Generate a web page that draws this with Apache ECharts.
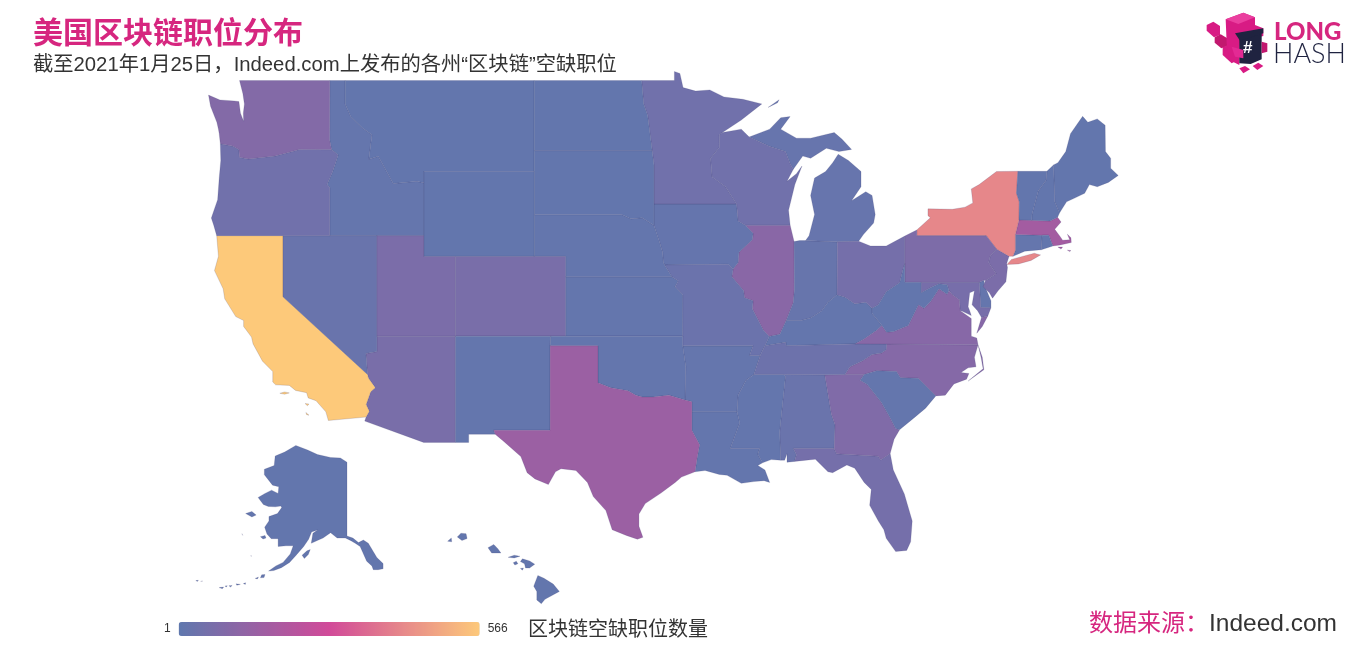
<!DOCTYPE html>
<html lang="zh">
<head>
<meta charset="UTF-8">
<title>美国区块链职位分布</title>
<style>
    *{margin:0;padding:0}
    html,body{background:#fff}
    #main{width:1366px;height:650px}
</style>
<script src="https://cdn.jsdelivr.net/npm/echarts@6/dist/echarts.min.js"></script>
</head>
<body>
<div id="main"></div>
<script>
// job counts
const stateNames = ['AL','AK','AZ','AR','CA','CO','CT','DE','FL','GA','HI','ID','IL','IN','IA','KS','KY','LA','ME','MD','MA','MI','MN','MS','MO','MT','NE','NV','NH','NJ','NM','NY','NC','ND','OH','OK','OR','PA','RI','SC','SD','TN','TX','UT','VT','VA','WA','WV','WI','WY'];
const jobCounts = [28,12,65,15,566,65,15,15,55,82,12,15,105,22,17,14,14,14,12,60,170,20,45,13,30,12,14,25,12,70,14,420,95,12,55,14,45,75,12,14,12,35,150,70,12,100,90,12,45,12];
const scaleMin = 1, scaleMax = 566;

// rough state outlines, [lon,lat]; each state is a list of polygons
const outlines = {
WA:[[[-122.76,49],[-117.03,49],[-117.04,46.43],[-116.92,45.99],[-118.98,46],[-119.3,45.93],[-120.5,45.7],[-121.2,45.65],[-122.2,45.57],[-122.76,45.65],[-122.8,46],[-123.2,46.15],[-123.98,46.25],[-124.05,46.7],[-124.1,46.9],[-124.2,47.2],[-124.6,47.9],[-124.73,48.38],[-124,48.17],[-123.1,48.13],[-122.8,48.1],[-122.7,47.6],[-122.5,47.25],[-122.52,47.6],[-122.45,48],[-122.55,48.45]]],
OR:[[[-123.98,46.25],[-123.2,46.15],[-122.8,46],[-122.76,45.65],[-122.2,45.57],[-121.2,45.65],[-120.5,45.7],[-119.3,45.93],[-118.98,46],[-116.92,45.99],[-116.5,45.75],[-116.85,45],[-117.2,44.4],[-117.03,44.25],[-117.03,42],[-120,42],[-124.21,42],[-124.4,42.5],[-124.55,42.84],[-124.15,43.7],[-124.05,44.7],[-123.95,45.5]]],
CA:[[[-124.21,42],[-120,42],[-120,39],[-114.63,35],[-114.57,34.8],[-114.14,34.3],[-114.43,34.08],[-114.72,33.4],[-114.52,33.03],[-114.72,32.72],[-117.12,32.53],[-117.28,33],[-117.9,33.6],[-118.4,33.75],[-118.5,34.03],[-119.2,34.15],[-119.6,34.42],[-120.47,34.45],[-120.65,34.6],[-120.65,35.15],[-121.3,35.7],[-121.9,36.6],[-122,36.95],[-122.5,37.5],[-122.5,37.8],[-123,38],[-123.7,38.9],[-123.8,39.4],[-124.35,40.3],[-124.1,41]],
    [[-120.2,34],[-119.9,34.07],[-119.6,34.02],[-119.9,33.95]],[[-118.6,33.45],[-118.35,33.42],[-118.45,33.33]],[[-118.55,32.97],[-118.35,32.82],[-118.5,32.85]]],
NV:[[[-120,42],[-117.03,42],[-114.04,42],[-114.04,37],[-114.04,36.2],[-114.74,36.1],[-114.63,35],[-120,39]]],
UT:[[[-114.04,42],[-111.05,42],[-111.05,41],[-109.05,41],[-109.05,37],[-114.04,37]]],
AZ:[[[-114.04,37],[-109.05,37],[-109.05,31.33],[-111.07,31.33],[-114.81,32.5],[-114.72,32.72],[-114.52,33.03],[-114.72,33.4],[-114.43,34.08],[-114.14,34.3],[-114.57,34.8],[-114.63,35],[-114.74,36.1],[-114.04,36.2]]],
ID:[[[-117.03,49],[-116.05,49],[-116.05,48],[-115.7,47.45],[-114.95,46.95],[-114.35,46.65],[-114.55,45.56],[-113.95,45.69],[-113.45,45.05],[-113,44.45],[-111.5,44.55],[-111.05,44.48],[-111.05,42],[-114.04,42],[-117.03,42],[-117.03,44.25],[-117.2,44.4],[-116.85,45],[-116.5,45.75],[-116.92,45.99],[-117.04,46.43]]],
MT:[[[-116.05,49],[-104.05,49],[-104.05,45.94],[-104.05,45],[-111.05,45],[-111.05,44.48],[-111.5,44.55],[-113,44.45],[-113.45,45.05],[-113.95,45.69],[-114.55,45.56],[-114.35,46.65],[-114.95,46.95],[-115.7,47.45],[-116.05,48]]],
WY:[[[-111.05,45],[-104.05,45],[-104.05,43],[-104.05,41],[-109.05,41],[-111.05,41],[-111.05,42],[-111.05,44.48]]],
CO:[[[-109.05,41],[-104.05,41],[-102.05,41],[-102.05,40],[-102.05,37],[-103,37],[-109.05,37]]],
NM:[[[-109.05,37],[-103,37],[-103.04,36.5],[-103.04,32],[-106.62,32],[-106.53,31.78],[-108.21,31.78],[-108.21,31.33],[-109.05,31.33]]],
ND:[[[-104.05,49],[-97.23,49],[-97.1,48],[-96.85,47.5],[-96.56,45.94],[-104.05,45.94]]],
SD:[[[-104.05,45.94],[-96.56,45.94],[-96.45,45.3],[-96.45,43.5],[-96.45,42.49],[-97.2,42.85],[-97.9,42.8],[-98.5,43],[-104.05,43],[-104.05,45]]],
NE:[[[-104.05,43],[-98.5,43],[-97.9,42.8],[-97.2,42.85],[-96.45,42.49],[-96.1,41.7],[-95.9,41.2],[-95.85,40.7],[-95.77,40.58],[-95.31,40],[-102.05,40],[-102.05,41],[-104.05,41]]],
KS:[[[-102.05,40],[-95.31,40],[-94.9,39.8],[-95.1,39.5],[-94.61,39.1],[-94.62,37],[-102.05,37]]],
OK:[[[-103,37],[-102.05,37],[-94.62,37],[-94.62,36.5],[-94.43,35.4],[-94.48,33.64],[-95.5,33.9],[-96.5,33.8],[-97.2,33.8],[-97.6,33.9],[-98.1,34.13],[-99.2,34.3],[-100,34.56],[-100,36.5],[-103.04,36.5]]],
TX:[[[-103.04,36.5],[-100,36.5],[-100,34.56],[-99.2,34.3],[-98.1,34.13],[-97.6,33.9],[-97.2,33.8],[-96.5,33.8],[-95.5,33.9],[-94.48,33.64],[-94.04,33.55],[-94.04,33],[-94.04,32],[-93.55,31.2],[-93.7,30.5],[-93.84,29.7],[-94.7,29.4],[-95.1,29.1],[-96,28.5],[-97,27.9],[-97.4,27.3],[-97.4,26.6],[-97.15,25.96],[-97.5,25.85],[-98.2,26.07],[-99.1,26.4],[-99.5,27.5],[-100.3,28.3],[-100.67,29.1],[-101.4,29.77],[-102.35,29.87],[-102.7,29.7],[-103.15,28.98],[-104,29.3],[-104.5,29.65],[-104.9,30.55],[-106,31.4],[-106.53,31.78],[-106.62,32],[-103.04,32]]],
MN:[[[-97.23,49],[-95.15,49],[-95.15,49.38],[-94.8,49.3],[-94.6,48.7],[-93.8,48.55],[-92.9,48.6],[-92,48.3],[-90.8,48.2],[-89.6,48],[-90.9,47.3],[-92.1,46.75],[-92.3,46.65],[-92.29,46.1],[-92.85,45.6],[-92.75,44.75],[-91.9,44.3],[-91.2,43.5],[-96.45,43.5],[-96.45,45.3],[-96.56,45.94],[-96.85,47.5],[-97.1,48]]],
IA:[[[-96.45,43.5],[-91.2,43.5],[-91.1,42.7],[-90.64,42.5],[-90.15,42.1],[-90.2,41.8],[-91.05,41.2],[-91.1,40.7],[-91.42,40.38],[-91.73,40.61],[-95.77,40.58],[-95.85,40.7],[-95.9,41.2],[-96.1,41.7],[-96.45,42.49]]],
MO:[[[-95.77,40.58],[-91.73,40.61],[-91.42,40.38],[-91.5,40],[-90.75,39.3],[-90.7,38.95],[-90.15,38.8],[-90.2,38.4],[-89.5,37.3],[-89.13,36.98],[-89.4,36.5],[-89.7,36],[-90.37,36],[-90.15,36.5],[-94.62,36.5],[-94.62,37],[-94.61,39.1],[-95.1,39.5],[-94.9,39.8],[-95.31,40]]],
AR:[[[-94.62,36.5],[-90.15,36.5],[-90.37,36],[-89.7,36],[-90.1,35],[-90.6,34.7],[-91.1,33.9],[-91.17,33],[-94.04,33],[-94.04,33.55],[-94.48,33.64],[-94.43,35.4]]],
LA:[[[-94.04,33],[-91.17,33],[-91,32.4],[-91.6,31],[-89.73,31],[-89.85,30.67],[-89.55,30.2],[-89.85,30.05],[-89.4,29.8],[-89.1,29.1],[-89.45,29.2],[-90.1,29.15],[-90.9,29.05],[-91.8,29.5],[-92.3,29.55],[-93.2,29.77],[-93.84,29.7],[-93.7,30.5],[-93.55,31.2],[-94.04,32]]],
MS:[[[-90.1,35],[-88.2,35],[-88.1,34.9],[-88.47,31.9],[-88.4,30.35],[-89,30.38],[-89.55,30.2],[-89.85,30.67],[-89.73,31],[-91.6,31],[-91,32.4],[-91.17,33],[-91.1,33.9],[-90.6,34.7]]],
AL:[[[-88.2,35],[-85.6,34.98],[-85.18,32.87],[-84.95,32.3],[-85,31],[-87.6,31],[-87.4,30.65],[-87.52,30.28],[-88,30.23],[-88,30.7],[-88.15,30.35],[-88.4,30.35],[-88.47,31.9],[-88.1,34.9]]],
GA:[[[-85.6,34.98],[-84.32,35],[-83.1,35],[-83.35,34.7],[-82.9,34.47],[-82,33.5],[-81.4,32.6],[-81.1,32.1],[-80.85,32.03],[-81.2,31.5],[-81.45,30.72],[-82.05,30.36],[-82.2,30.57],[-84.86,30.7],[-85,31],[-84.95,32.3],[-85.18,32.87]]],
FL:[[[-87.6,31],[-85,31],[-84.86,30.7],[-82.2,30.57],[-82.05,30.36],[-81.45,30.72],[-81.25,29.8],[-80.55,28.45],[-80.05,26.9],[-80.15,25.7],[-80.4,25.2],[-81.1,25.13],[-81.7,25.9],[-81.85,26.4],[-82.2,26.9],[-82.75,27.8],[-82.65,28.7],[-83.1,29.1],[-83.7,29.9],[-84.2,30.08],[-85.1,29.65],[-85.4,29.7],[-86.2,30.4],[-87.52,30.28],[-87.4,30.65]]],
SC:[[[-83.1,35],[-82.3,35.2],[-81.05,35.15],[-80.8,34.82],[-79.67,34.8],[-78.55,33.86],[-79.2,33.2],[-79.9,32.7],[-80.85,32.03],[-81.1,32.1],[-81.4,32.6],[-82,33.5],[-82.9,34.47],[-83.35,34.7]]],
NC:[[[-84.32,35],[-83.1,35],[-82.3,35.2],[-81.05,35.15],[-80.8,34.82],[-79.67,34.8],[-78.55,33.86],[-77.95,33.9],[-77.4,34.5],[-76.6,34.75],[-76.45,35.05],[-76.95,35.1],[-76.5,35.35],[-76,35.4],[-76.1,35.9],[-75.87,36.55],[-81.68,36.59],[-81.7,36.3],[-82,36.12],[-82.6,36.05],[-83.2,35.72],[-84,35.4]],
    [[-75.87,36.55],[-75.6,35.9],[-75.5,35.25],[-76.5,34.65],[-75.55,35.3],[-75.68,35.9]]],
TN:[[[-90.1,35],[-88.2,35],[-85.6,34.98],[-84.32,35],[-84,35.4],[-83.2,35.72],[-82.6,36.05],[-82,36.12],[-81.7,36.3],[-81.68,36.59],[-83.68,36.6],[-88.07,36.5],[-88.07,36.68],[-89.4,36.5],[-89.7,36]]],
KY:[[[-89.4,36.5],[-88.07,36.68],[-88.07,36.5],[-83.68,36.6],[-83.1,36.85],[-82.3,37.3],[-81.97,37.54],[-82.6,38.17],[-82.6,38.42],[-83,38.72],[-83.7,38.65],[-84.3,38.98],[-84.82,39.1],[-85.4,38.73],[-85.8,38.28],[-86.5,37.93],[-87.1,37.8],[-88.05,37.8],[-88.45,37.1],[-89.13,36.98]]],
IL:[[[-90.64,42.5],[-87.8,42.5],[-87.55,41.72],[-87.53,39.35],[-87.6,38.7],[-88.05,37.8],[-88.45,37.1],[-89.13,36.98],[-89.5,37.3],[-90.2,38.4],[-90.15,38.8],[-90.7,38.95],[-90.75,39.3],[-91.5,40],[-91.42,40.38],[-91.1,40.7],[-91.05,41.2],[-90.2,41.8],[-90.15,42.1]]],
IN:[[[-87.55,41.72],[-87.2,41.76],[-86.82,41.76],[-84.8,41.7],[-84.82,39.1],[-85.4,38.73],[-85.8,38.28],[-86.5,37.93],[-87.1,37.8],[-88.05,37.8],[-87.6,38.7],[-87.53,39.35]]],
OH:[[[-84.8,41.7],[-83.45,41.73],[-82.7,41.5],[-81.7,41.5],[-80.52,41.98],[-80.52,40.64],[-80.65,40.3],[-80.85,39.7],[-81.7,39.25],[-82.2,38.6],[-82.6,38.42],[-83,38.72],[-83.7,38.65],[-84.3,38.98],[-84.82,39.1]]],
WV:[[[-81.97,37.54],[-82.6,38.17],[-82.6,38.42],[-82.2,38.6],[-81.7,39.25],[-80.85,39.7],[-80.65,40.3],[-80.52,40.64],[-80.52,39.72],[-79.48,39.72],[-79.48,39.2],[-78.9,39.45],[-78.35,39.65],[-77.83,39.6],[-77.72,39.32],[-77.83,39.13],[-78.35,39.4],[-78.87,38.77],[-79.3,38.42],[-79.65,38.6],[-80.3,37.55],[-81.23,37.24],[-81.68,37.2]]],
VA:[[[-83.68,36.6],[-81.68,36.59],[-75.87,36.55],[-75.95,36.9],[-76.3,37],[-76.3,37.55],[-76.3,37.9],[-77,38.3],[-77.05,38.7],[-77.05,38.85],[-77.5,39.1],[-77.72,39.32],[-77.83,39.13],[-78.35,39.4],[-78.87,38.77],[-79.3,38.42],[-79.65,38.6],[-80.3,37.55],[-81.23,37.24],[-81.68,37.2],[-81.97,37.54],[-82.3,37.3],[-83.1,36.85]],
    [[-75.95,37.15],[-75.65,37.95],[-75.25,38.03],[-75.6,37.5]]],
MD:[[[-79.48,39.72],[-75.79,39.72],[-75.7,38.46],[-75.05,38.45],[-75.25,38.03],[-75.65,37.95],[-75.9,38.3],[-76.25,38.6],[-76.1,39.3],[-76.4,39.2],[-76.5,38.5],[-76.4,38.3],[-76.3,38.05],[-76.9,38.28],[-77,38.3],[-77.05,38.7],[-77.05,38.85],[-77.5,39.1],[-77.72,39.32],[-77.83,39.6],[-78.35,39.65],[-78.9,39.45],[-79.48,39.2]]],
DE:[[[-75.79,39.72],[-75.5,39.83],[-75.4,39.45],[-75.05,38.8],[-75.05,38.45],[-75.7,38.46]]],
PA:[[[-80.52,41.98],[-79.76,42.27],[-79.76,42],[-75.35,42],[-74.7,41.36],[-75.1,41],[-75.2,40.7],[-74.72,40.15],[-75.4,39.8],[-75.5,39.83],[-75.79,39.72],[-79.48,39.72],[-80.52,39.72],[-80.52,40.64]]],
NJ:[[[-74.7,41.36],[-73.9,41],[-74.05,40.65],[-74,40.45],[-74.1,39.75],[-74.6,39.3],[-74.95,38.93],[-75.15,39.2],[-75.55,39.5],[-75.4,39.8],[-74.72,40.15],[-75.2,40.7],[-75.1,41]]],
NY:[[[-79.76,42],[-75.35,42],[-74.7,41.36],[-73.9,41],[-73.65,41],[-73.5,41.3],[-73.5,42.05],[-73.27,42.75],[-73.25,43.6],[-73.43,44],[-73.34,45.01],[-74.7,45],[-75.8,44.4],[-76.3,44.2],[-76.2,43.55],[-76.7,43.35],[-77.5,43.25],[-79.05,43.27],[-79.05,42.95],[-78.9,42.85],[-79.76,42.27]],
    [[-74.03,40.6],[-73.75,40.85],[-72.3,41.15],[-71.9,41.07],[-72.5,40.8],[-73.3,40.63]]],
VT:[[[-73.34,45.01],[-71.5,45.01],[-71.55,44.6],[-72.05,44.1],[-72.45,43],[-72.46,42.73],[-73.27,42.75],[-73.25,43.6],[-73.43,44]]],
NH:[[[-71.5,45.01],[-71.08,45.3],[-71,43.6],[-70.7,43.07],[-70.82,42.87],[-71.3,42.7],[-72.46,42.73],[-72.45,43],[-72.05,44.1],[-71.55,44.6]]],
ME:[[[-71.08,45.3],[-70.8,45.4],[-70.3,45.9],[-70,46.7],[-69.23,47.46],[-68.9,47.2],[-68.3,47.35],[-67.8,47.07],[-67.78,45.9],[-67.45,45.6],[-67.45,45.15],[-66.97,44.82],[-67.6,44.5],[-68.3,44.3],[-68.8,44.4],[-69.1,44],[-69.8,43.75],[-70.25,43.6],[-70.7,43.07],[-71,43.6]]],
MA:[[[-73.5,42.05],[-73.27,42.75],[-72.46,42.73],[-71.3,42.7],[-70.82,42.87],[-70.6,42.65],[-71,42.3],[-70.65,41.95],[-70.5,41.78],[-70.05,41.8],[-70.2,42.07],[-69.97,41.9],[-69.95,41.67],[-70.65,41.55],[-71.12,41.5],[-71.38,42.02],[-71.8,42.02]],
    [[-70.8,41.45],[-70.5,41.45],[-70.6,41.35]],[[-70.2,41.3],[-69.97,41.28],[-70.05,41.23]]],
RI:[[[-71.8,42.02],[-71.38,42.02],[-71.12,41.5],[-71.85,41.32]]],
CT:[[[-73.5,42.05],[-71.8,42.02],[-71.85,41.32],[-72.9,41.25],[-73.65,41],[-73.5,41.3]]],
MI:[[[-86.82,41.76],[-84.8,41.7],[-83.45,41.73],[-83.15,42.05],[-82.5,42.6],[-82.4,43],[-82.6,43.9],[-83,44.07],[-83.9,43.65],[-83.3,44.3],[-83.3,45],[-84.1,45.5],[-84.75,45.78],[-85.1,45.4],[-85.55,45],[-86.25,44.7],[-86.5,43.9],[-86.25,43],[-86.6,42]],
    [[-90.4,46.55],[-89.1,46.9],[-88.4,47.4],[-87.8,47.45],[-88.4,46.9],[-87.4,46.5],[-86.5,46.5],[-85,46.75],[-84.5,46.45],[-83.9,46],[-84.7,45.9],[-85.5,46.05],[-86.5,45.6],[-87,45.7],[-87.6,45.1],[-87.8,45.35],[-88.1,45.9],[-89.1,46.13]],
    [[-89.2,47.85],[-88.5,48.18],[-88.6,48.05]]],
WI:[[[-92.3,46.65],[-92.1,46.75],[-90.9,46.9],[-90.4,46.55],[-89.1,46.13],[-88.1,45.9],[-87.8,45.35],[-87.6,45.1],[-88,44.55],[-87.4,44.9],[-87.05,45.25],[-87.5,44.4],[-87.9,43.2],[-87.8,42.5],[-90.64,42.5],[-91.1,42.7],[-91.2,43.5],[-91.9,44.3],[-92.75,44.75],[-92.85,45.6],[-92.29,46.1]]],
AK:[[[-141,69.65],[-141,60.3],[-139.2,60],[-137.5,59.3],[-136,59.7],[-134.5,59.2],[-131.9,56.9],[-130,55.9],[-130,55],[-131.5,54.85],[-133,54.85],[-133.4,55.5],[-135,56.3],[-137,58.7],[-138.5,59.2],[-139.8,59.6],[-141.5,60],[-144,60],[-146,60.8],[-148.3,60],[-149.7,59.7],[-151.9,59.2],[-151.4,60.7],[-150,61.2],[-151.8,60.9],[-152.7,59.8],[-154.2,58.7],[-156.5,57.3],[-158.5,56.1],[-161,55.2],[-163.3,54.7],[-164.9,54.6],[-162.7,55.5],[-160.5,56.1],[-158.3,57.5],[-157.4,58.8],[-159.6,58.8],[-162,58.7],[-162,59.9],[-164.1,59.9],[-165.4,60.6],[-166.1,61.6],[-164.8,62.5],[-164.8,63.1],[-162.2,63.5],[-160.9,64.3],[-161.2,64.5],[-162.8,64.4],[-165,64.45],[-166.5,64.7],[-168.1,65.6],[-166,66.1],[-164,66.5],[-162,66.1],[-161.8,66.9],[-163.7,67.1],[-166.2,68.3],[-166.2,68.9],[-163.2,69.3],[-162.9,70.3],[-160,70.7],[-156.6,71.35],[-153,70.9],[-150,70.45],[-146,70.15],[-143,70.1]],
    [[-154.7,57.3],[-153.2,58],[-152.2,58.2],[-152.8,57.4],[-154,56.75]],[[-171.9,63.5],[-170,63.8],[-168.7,63.3],[-170,63.05]],[[-167.4,60.2],[-166,60.4],[-165.7,60],[-166.6,59.85]],
    [[-173,60.65],[-172.8,60.4],[-172.6,60.5]],[[-170.4,57.2],[-170,57.15],[-170.2,57.1]],
    [[-167,53.95],[-166,54],[-166.3,53.45],[-167.4,53.4]],[[-169,53.3],[-168,53.55],[-168.3,53.2]],[[-172.6,52.35],[-171.9,52.5],[-172,52.2]],[[-174.8,52.3],[-173.5,52.2],[-174.6,52.05]],[[-177,51.95],[-176,52],[-176.5,51.7]],[[-178.2,51.9],[-177.5,51.95],[-177.8,51.7]],[[-180,51.6],[-178.6,51.7],[-179,51.4]],[[-187.1,52.9],[-186.3,52.95],[-186.6,52.75]],[[-185.6,52.75],[-185,52.8],[-185.3,52.65]]],
HI:[[[-159.78,22.05],[-159.6,22.22],[-159.35,22.2],[-159.3,21.97],[-159.55,21.88]],[[-160.25,21.85],[-160.07,22],[-160.05,21.82]],[[-158.28,21.55],[-158,21.7],[-157.8,21.5],[-157.65,21.3],[-157.95,21.3],[-158.1,21.3]],[[-157.3,21.1],[-157,21.2],[-156.72,21.15],[-157,21.07]],[[-157.05,20.85],[-156.9,20.92],[-156.82,20.8],[-156.97,20.74]],[[-156.7,20.9],[-156.6,21.03],[-156.25,20.93],[-156,20.78],[-156.25,20.6],[-156.45,20.6],[-156.5,20.8]],[[-156.7,20.58],[-156.55,20.6],[-156.6,20.5]],[[-156.05,19.75],[-155.85,20.25],[-155.55,20.12],[-155.1,19.85],[-154.8,19.5],[-155.5,19.13],[-155.68,18.92],[-155.9,19.1],[-155.9,19.5]]]
};

// mercator in degrees, the reference map is a plain mercator with two insets
function merc(lat){
    return Math.log(Math.tan(Math.PI/4+lat*Math.PI/360))*180/Math.PI;
}
function project(p){
    let lon=p[0],lat=p[1];
    if(lat>50) return [347+(lon+141)*3.28, 445+(103.65-merc(lat))*3.3];
    if(lat<23 && lon<-150) return [463+(lon+159.5)*20.5, 536+(22.66-merc(lat))*20];
    return [208.5+(lon+124.73)*15.75, 235.5+(46.37-merc(lat))*15.5];
}
function unproject(p){
    return [(p[0]-208.5)/15.75-124.73, 42];
}

let features=[];
let x0=1e9,x1=-1e9,y0=1e9,y1=-1e9;
stateNames.forEach(name=>{
    let polys=outlines[name].map(ring=>{
        ring.forEach(pt=>{
            let q=project(pt);
            x0=Math.min(x0,q[0]);x1=Math.max(x1,q[0]);
            y0=Math.min(y0,q[1]);y1=Math.max(y1,q[1]);
        });
        return [ring.concat([ring[0]])];
    });
    features.push({type:'Feature',properties:{name},geometry:{type:'MultiPolygon',coordinates:polys}});
});
echarts.registerMap('USA',{type:'FeatureCollection',features});

const pink='#d6267f', navy='#1f2340', ink='#333';
const fontCn='"Liberation Sans","Noto Sans CJK SC",sans-serif';

// logo blocks, traced in a crop so offset by its corner
const lz=(x,y)=>[1180+x/3,y/3];
function block(pts,fill){
    return {type:'polygon',silent:true,shape:{points:pts.map(p=>lz(p[0],p[1]))},style:{fill}};
}
const logo=[
    block([[80,75],[100,65],[120,78],[120,105],[102,112],[80,92]],'#d81b84'),
    block([[104,112],[122,103],[142,115],[142,138],[124,145],[104,128]],'#c2186f'),
    block([[128,142],[150,132],[178,150],[178,178],[155,190],[128,165]],'#d81b84'),
    block([[137,58],[190,38],[225,52],[225,75],[250,85],[250,108],[180,125],[178,195],[148,180],[140,130]],'#d81b84'),
    block([[137,58],[190,38],[225,52],[175,72]],'#ea3f9f'),
    block([[178,118],[245,100],[245,178],[212,192],[178,190]],navy),
    block([[165,100],[250,85],[250,100],[180,122]],navy),
    block([[245,125],[262,130],[262,155],[245,160]],'#c2186f'),
    block([[155,140],[190,150],[190,175],[165,170]],'#e32a94'),
    block([[178,205],[195,198],[210,208],[190,220]],'#d81b84'),
    block([[218,198],[235,188],[250,198],[232,210]],'#d81b84')
];

let char=echarts.init(document.getElementById('main'));
let option={
    backgroundColor:'#fff',
    animation:false,
    title:[
        {text:'美国区块链职位分布',left:33,top:20,padding:0,textStyle:{color:pink,fontFamily:fontCn,fontSize:30,fontWeight:'bold'}},
        {text:'截至2021年1月25日，Indeed.com上发布的各州“区块链”空缺职位',left:33,top:55,padding:0,textStyle:{color:ink,fontFamily:fontCn,fontSize:20.3,fontWeight:'normal'}},
        {text:'区块链空缺职位数量',left:528,top:620,padding:0,textStyle:{color:ink,fontFamily:fontCn,fontSize:20,fontWeight:'normal'}},
        {text:'{a|数据来源：}{b|Indeed.com}',left:1089,top:612,padding:0,textStyle:{rich:{
            a:{color:pink,fontFamily:fontCn,fontSize:24,fontWeight:'normal'},
            b:{color:ink,fontFamily:'"Liberation Sans",sans-serif',fontSize:24.5,fontWeight:'normal'}
        }}}
    ],
    visualMap:{
        type:'continuous',
        min:scaleMin,max:scaleMax,
        orient:'horizontal',
        left:149,top:607,
        itemWidth:14,itemHeight:301,
        text:[String(scaleMax),String(scaleMin)],
        textGap:8,
        textStyle:{color:ink,fontSize:12,fontFamily:'"Liberation Sans",sans-serif'},
        calculable:false,realtime:false,
        inRange:{color:['#5f78ae','#d14a99','#fdc97a']}
    },
    graphic:logo.concat([
        {type:'text',left:1243,top:40,silent:true,style:{text:'#',fill:'#fff',font:'bold 17px "Liberation Sans",sans-serif'}},
        {type:'text',left:1274,top:20,silent:true,style:{text:'LONG',fill:pink,font:'900 24px Lato,sans-serif'}},
        {type:'text',left:1273,top:41,silent:true,style:{text:'HASH',fill:navy,font:'300 27px Lato,sans-serif'}}
    ]),
    series:[{
        type:'map',
        map:'USA',
        projection:{project,unproject},
        left:x0,top:y0,width:x1-x0,height:y1-y0,
        roam:false,
        silent:true,
        showLegendSymbol:false,
        label:{show:false},
        itemStyle:{borderColor:'rgba(60,60,110,0.22)',borderWidth:0.8},
        data:stateNames.map((name,i)=>({name,value:jobCounts[i]}))
    }]
};
char.setOption(option);
</script>
</body>
</html>
